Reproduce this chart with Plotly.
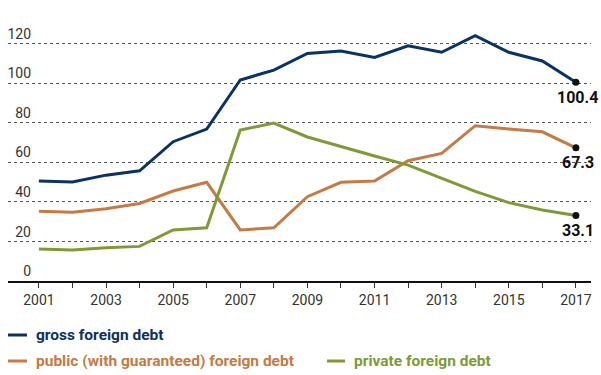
import plotly.graph_objects as go

years = list(range(2001, 2018))
gross = [50.5, 50.0, 53.5, 55.7, 70.4, 76.8, 101.6, 106.6, 115.0, 116.2, 113.0, 118.9, 115.6, 124.0, 115.6, 111.2, 100.4]
public = [35.2, 34.7, 36.5, 39.2, 45.5, 49.9, 25.8, 26.9, 42.6, 49.9, 50.5, 60.8, 64.5, 78.5, 76.8, 75.4, 67.3]
private = [16.2, 15.7, 16.8, 17.5, 25.8, 26.9, 76.3, 79.8, 72.8, 67.9, 63.2, 58.6, 51.9, 45.3, 39.6, 35.9, 33.1]

names = ["gross foreign debt", "public (with guaranteed) foreign debt", "private foreign debt"]
colors = ["#0b3264", "#c57b43", "#7f9a35"]
series = [gross, public, private]

W, H = 601, 375
ml, mr, mt, mb = 0, 10, 4, 94
pw = W - ml - mr
ph = H - mt - mb
axis_px = H - mb  # pixel row of the x axis


def px_x(p):
    return (p - ml) / pw


def px_y(p):
    return (axis_px - p) / ph


fig = go.Figure()
for name, col, vals in zip(names, colors, series):
    fig.add_trace(go.Scatter(
        x=years, y=vals, mode="lines",
        line=dict(color=col, width=3),
        name=name, showlegend=False,
    ))

# end markers
fig.add_trace(go.Scatter(
    x=[years[-1]] * 3, y=[s[-1] for s in series], mode="markers",
    marker=dict(color="#111111", size=7), showlegend=False, hoverinfo="skip",
))
for s in series:
    fig.add_annotation(x=years[-1], y=s[-1], text=f"<b>{s[-1]:.1f}</b>",
                       showarrow=False, xanchor="center", yanchor="middle",
                       yshift=-15, xshift=2,
                       font=dict(size=16, color="#111111", family="Roboto"))

# manual legend (line swatch + coloured bold label)
legend_items = [  # (line x0, line x1, text x, row y) in pixels
    (8, 27, 34, 335),
    (8, 27, 34, 361),
    (327, 345, 352, 361),
]
for (x0, x1, tx, ty), name, col in zip(legend_items, names, colors):
    fig.add_shape(type="line", xref="paper", yref="paper",
                  x0=px_x(x0), x1=px_x(x1), y0=px_y(ty), y1=px_y(ty),
                  line=dict(color=col, width=3))
    fig.add_annotation(xref="paper", yref="paper", x=px_x(tx), y=px_y(ty),
                       text=f"<b>{name}</b>", showarrow=False,
                       xanchor="left", yanchor="middle",
                       font=dict(size=15.5, color=col, family="Roboto"))

ticktext = [str(y) if (y - 2001) % 2 == 0 else "" for y in years]

fig.update_layout(
    width=W, height=H,
    margin=dict(l=ml, r=mr, t=mt, b=mb),
    plot_bgcolor="white", paper_bgcolor="white",
    font=dict(family="Roboto", color="#333333"),
    showlegend=False,
    xaxis=dict(
        domain=[8 / pw, 1],
        range=[2000.08, 2017.45],
        tickvals=years, ticktext=ticktext,
        ticks="outside", ticklen=5, tickcolor="#333333", tickwidth=1,
        showline=True, linecolor="#111111", linewidth=1.5,
        showgrid=False, zeroline=False,
        tickfont=dict(size=14, color="#333333"),
        fixedrange=True,
    ),
    yaxis=dict(
        range=[0, 140],
        tickvals=[0, 20, 40, 60, 80, 100, 120, 140],
        ticktext=["0", "20", "40", "60", "80", "100", "120", ""],
        anchor="free", position=31 / pw,
        ticklabelposition="outside top",
        ticks="", showline=False, zeroline=False,
        showgrid=True, gridcolor="#555555", griddash="dot", gridwidth=1,
        tickfont=dict(size=14, color="#333333"),
        fixedrange=True,
    ),
)

fig.write_html("out.html")
